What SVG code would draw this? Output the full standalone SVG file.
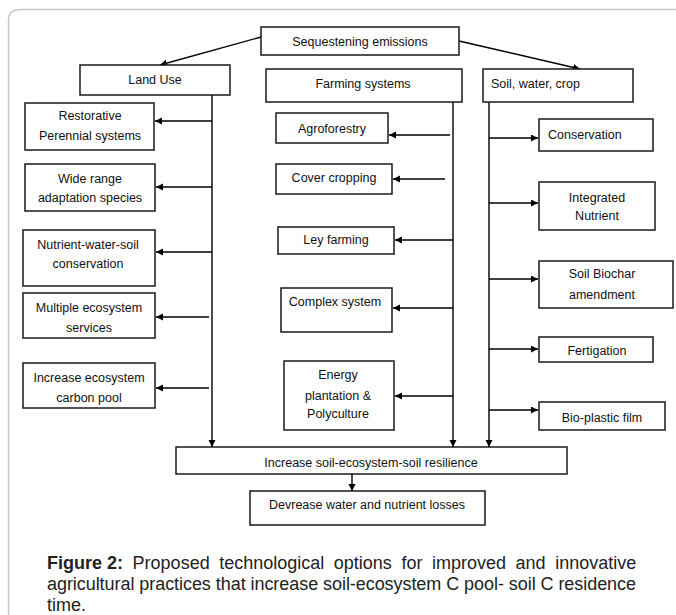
<svg xmlns="http://www.w3.org/2000/svg" width="676" height="615" viewBox="0 0 676 615">
<defs>
<marker id="ah" markerWidth="8" markerHeight="8" refX="7" refY="3.5" orient="auto" markerUnits="userSpaceOnUse">
<path d="M0,0 L7,3.5 L0,7 z" fill="#000"/>
</marker>
<style>
.box{fill:#fff;stroke:#1a1a1a;stroke-width:1.5}
.t{font-family:"Liberation Sans",Arial,sans-serif;font-size:12.5px;fill:#111;text-anchor:middle}
.tl{font-family:"Liberation Sans",Arial,sans-serif;font-size:12.5px;fill:#111}
.c{stroke:#000;stroke-width:1.4;fill:none}
.a{stroke:#000;stroke-width:1.4;fill:none;marker-end:url(#ah)}
.cap{font-family:"Liberation Sans",Arial,sans-serif;font-size:18px;fill:#222}
</style>
</defs>
<rect x="0" y="0" width="676" height="615" fill="#fff"/>
<path d="M8.5,620 V21 Q8.5,9.5 20,9.5 H680" fill="none" stroke="#c8c8c8" stroke-width="1.5"/>

<g id="connectors">
<line class="a" x1="261" y1="37" x2="160" y2="65"/>
<line class="a" x1="459" y1="41" x2="580" y2="69"/>
<line class="a" x1="212" y1="95" x2="212" y2="447"/>
<line class="a" x1="453" y1="102" x2="453" y2="447"/>
<line class="a" x1="489" y1="102" x2="489" y2="447"/>
<line class="a" x1="212" y1="121" x2="155" y2="121"/>
<line class="a" x1="212" y1="187" x2="156" y2="187"/>
<line class="a" x1="212" y1="252" x2="156" y2="252"/>
<line class="a" x1="209" y1="317" x2="156" y2="317"/>
<line class="a" x1="209" y1="388" x2="156" y2="388"/>
<line class="a" x1="450" y1="135" x2="389" y2="135"/>
<line class="a" x1="445" y1="179" x2="393" y2="179"/>
<line class="a" x1="453" y1="240" x2="395" y2="240"/>
<line class="a" x1="453" y1="308" x2="393" y2="308"/>
<line class="a" x1="453" y1="396" x2="395" y2="396"/>
<line class="a" x1="489" y1="138" x2="538" y2="138"/>
<line class="a" x1="489" y1="203" x2="538" y2="203"/>
<line class="a" x1="489" y1="279" x2="538" y2="279"/>
<line class="a" x1="489" y1="349" x2="538" y2="349"/>
<line class="a" x1="489" y1="410" x2="538" y2="410"/>
<line class="a" x1="352" y1="474" x2="352" y2="491"/>
</g>

<g id="seq"><rect class="box" x="261" y="27" width="198" height="28"/><text class="t" x="360" y="45.5">Sequestening emissions</text></g>
<g id="landuse"><rect class="box" x="80" y="65" width="150" height="30"/><text class="t" x="155" y="84">Land Use</text></g>
<g id="farming"><rect class="box" x="266" y="69" width="196" height="33"/><text class="t" x="363" y="87.5">Farming systems</text></g>
<g id="soil"><rect class="box" x="483" y="69" width="150" height="33"/><text class="tl" x="491" y="88">Soil, water, crop</text></g>

<g id="restorative"><rect class="box" x="25" y="103" width="129" height="47"/><text class="t" x="90" y="120">Restorative</text><text class="t" x="90" y="139.5">Perennial systems</text></g>
<g id="widerange"><rect class="box" x="25" y="164" width="130" height="47"/><text class="t" x="90" y="182.5">Wide range</text><text class="t" x="90" y="201.5">adaptation species</text></g>
<g id="nutrient"><rect class="box" x="23" y="230" width="132" height="56"/><text class="t" x="88" y="248.5">Nutrient-water-soil</text><text class="t" x="88" y="267.5">conservation</text></g>
<g id="multiple"><rect class="box" x="23" y="293" width="132" height="45"/><text class="t" x="89" y="311.5">Multiple ecosystem</text><text class="t" x="89" y="331.5">services</text></g>
<g id="carbonpool"><rect class="box" x="23" y="363" width="132" height="45"/><text class="t" x="89" y="381.5">Increase ecosystem</text><text class="t" x="89" y="401.5">carbon pool</text></g>

<g id="agroforestry"><rect class="box" x="276" y="113" width="112" height="30"/><text class="t" x="332" y="132.5">Agroforestry</text></g>
<g id="covercropping"><rect class="box" x="276" y="164" width="116" height="30"/><text class="t" x="334" y="181.5">Cover cropping</text></g>
<g id="leyfarming"><rect class="box" x="278" y="227" width="116" height="27"/><text class="t" x="336" y="243.5">Ley farming</text></g>
<g id="complex"><rect class="box" x="281" y="288" width="111" height="44"/><text class="t" x="335" y="305.5">Complex system</text></g>
<g id="energy"><rect class="box" x="284" y="361" width="110" height="69"/><text class="t" x="338" y="378.5">Energy</text><text class="t" x="338" y="399.5">plantation &amp;</text><text class="t" x="338" y="417.5">Polyculture</text></g>

<g id="conservation"><rect class="box" x="539" y="119" width="114" height="32"/><text class="tl" x="548" y="138.5">Conservation</text></g>
<g id="integrated"><rect class="box" x="539" y="182" width="116" height="48"/><text class="t" x="597" y="201.5">Integrated</text><text class="t" x="597" y="219.5">Nutrient</text></g>
<g id="biochar"><rect class="box" x="539" y="261" width="134" height="47"/><text class="t" x="602" y="277.5">Soil Biochar</text><text class="t" x="602" y="298.5">amendment</text></g>
<g id="fertigation"><rect class="box" x="539" y="337" width="114" height="25"/><text class="t" x="597" y="354.5">Fertigation</text></g>
<g id="bioplastic"><rect class="box" x="539" y="402" width="126" height="28"/><text class="t" x="602" y="421.5">Bio-plastic film</text></g>

<g id="resilience"><rect class="box" x="176" y="447" width="391" height="27"/><text class="t" x="371" y="466.5">Increase soil-ecosystem-soil resilience</text></g>
<g id="losses"><rect class="box" x="250" y="491" width="235" height="34"/><text class="t" x="367" y="508.5">Devrease water and nutrient losses</text></g>

<g id="caption">
<text class="cap" y="569"><tspan x="47" font-weight="bold">Figure 2:</tspan><tspan x="132.6">Proposed</tspan><tspan x="219.2">technological</tspan><tspan x="333.8">options</tspan><tspan x="401.4">for</tspan><tspan x="432">improved</tspan><tspan x="515.6">and</tspan><tspan x="555.2">innovative</tspan></text>
<text class="cap" x="47" y="590" textLength="589" lengthAdjust="spacing">agricultural practices that increase soil-ecosystem C pool- soil C residence</text>
<text class="cap" x="47" y="610.5">time.</text>
</g>
</svg>
